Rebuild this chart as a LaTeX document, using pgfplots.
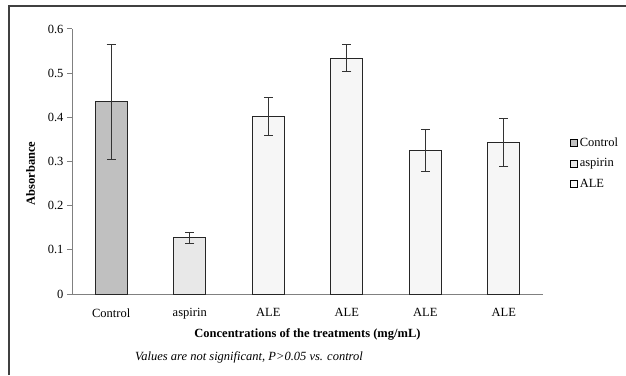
\documentclass[border=0pt]{standalone}
\usepackage{pgfplots}
\pgfplotsset{compat=1.18}
\usepackage{fontspec}
\setmainfont{Liberation Serif}
\definecolor{ctrl}{HTML}{C0C0C0}
\definecolor{asp}{HTML}{E8E8E8}
\definecolor{ale}{HTML}{F6F6F6}
\definecolor{axgray}{HTML}{808080}
\pgfplotsset{myerr/.style={
  error bars/y dir=both, error bars/y explicit,
  error bars/error bar style={line width=1pt, black!80},
  error bars/error mark options={rotate=90, mark size=4.5pt, line width=1pt, black!80}}}
\begin{document}
\begin{tikzpicture}[x=1pt,y=1pt]
\useasboundingbox (0,0) rectangle (626,375);
\draw[line width=1.8pt, black!75] (9,0) -- (9,369) -- (626,369);
\begin{axis}[
  at={(72pt,81pt)}, anchor=south west,
  scale only axis, width=471pt, height=265pt,
  xmin=-0.5, xmax=5.5, ymin=0, ymax=0.6,
  axis x line*=bottom, axis y line*=left,
  axis line style={axgray, line width=1pt},
  ybar, bar width=32pt, bar shift=0pt,
  xtick={0,1,2,3,4,5},
  xticklabels={Control,aspirin,ALE,ALE,ALE,ALE},
  major x tick style={draw=none},
  extra x ticks={-0.5,0.5,1.5,2.5,3.5,4.5,5.5},
  extra x tick labels={},
  extra x tick style={tick style={draw=axgray, line width=1pt}, major tick length=5pt, tick align=outside},
  ytick={0,0.1,...,0.6},
  y tick label style={/pgf/number format/.cd, fixed, precision=1},
  ytick style={draw=axgray, line width=1pt},
  tick align=outside, major tick length=5pt,
  /pgf/number format/assume math mode=true,
  tick label style={font=\fontsize{12.5}{14}\selectfont},
  xticklabel style={yshift=-6pt},
  xlabel={\textbf{Concentrations of the treatments (mg/mL)}},
  ylabel={\textbf{Absorbance}},
  label style={font=\fontsize{12.5}{14}\selectfont},
  xlabel style={yshift=8pt},
  ylabel style={yshift=6pt, xshift=-12pt},
  legend cell align=left,
  legend style={at={(1.051,0.607)}, anchor=north west, draw=none, fill=none,
    font=\fontsize{12.5}{14}\selectfont, row sep=7pt,
    /tikz/every even column/.append style={column sep=4pt}},
  legend image code/.code={\draw[#1, draw=black, line width=0.6pt] (0pt,-3.5pt) rectangle (7pt,3.5pt);},
]
\addplot[fill=ctrl, draw=black!85, line width=1pt, myerr] coordinates {(0,0.435) +- (0,0.13)};
\addplot[fill=asp, draw=black!85, line width=1pt, myerr] coordinates {(1,0.127) +- (0,0.013)};
\addplot[fill=ale, draw=black!85, line width=1pt, myerr] coordinates {
  (2,0.401) +- (0,0.043)
  (3,0.534) +- (0,0.031)
  (4,0.325) +- (0,0.048)
  (5,0.343) +- (0,0.055)
};
\legend{Control,aspirin,ALE}
\end{axis}
\node[anchor=west, inner sep=0pt, font=\itshape\fontsize{12.5}{14}\selectfont] at (135,18) {Values are not significant, P>0.05 vs. control};
\end{tikzpicture}
\end{document}
